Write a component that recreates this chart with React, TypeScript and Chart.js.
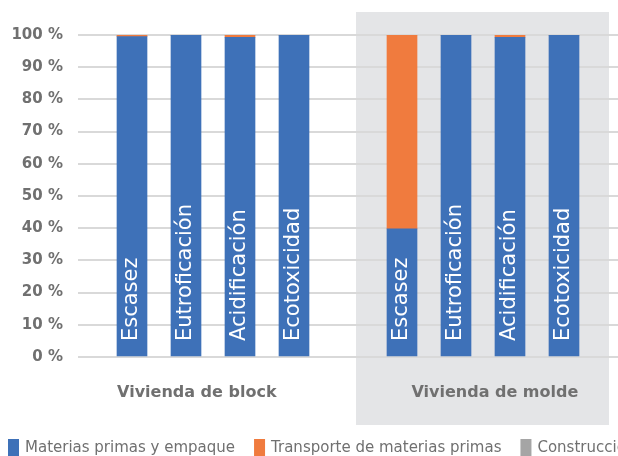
import { useEffect, useRef } from 'react';
import { Chart, registerables } from 'chart.js';

Chart.register(...registerables);

const impacts = ['Escasez', 'Eutroficación', 'Acidificación', 'Ecotoxicidad'];
const groups = ['Vivienda de block', 'Vivienda de molde'];
const blockSlots = [1, 2, 3, 4];
const moldeSlots = [6, 7, 8, 9];
const seriesNames = ['Materias primas y empaque', 'Transporte de materias primas', 'Construcción'];
const seriesColors = ['#3E71B8', '#F07B3E', '#A5A5A5'];

const blockMaterias = [99.5, 100, 99.3, 100];
const blockTransporte = [0.5, 0, 0.7, 0];
const blockConstruccion = [0, 0, 0, 0];
const moldeMaterias = [39.8, 100, 99.3, 100];
const moldeTransporte = [60.2, 0, 0.7, 0];
const moldeConstruccion = [0, 0, 0, 0];

const yTickValues = [0, 10, 20, 30, 40, 50, 60, 70, 80, 90, 100];

const TEXT_GRAY = '#707070';

function toPoints(block: number[], molde: number[]) {
  return [
    ...block.map((v, i) => ({ x: blockSlots[i], y: v })),
    ...molde.map((v, i) => ({ x: moldeSlots[i], y: v })),
  ];
}

const panelPlugin = {
  id: 'panel',
  beforeDraw(chart: any) {
    const { ctx } = chart;
    const xs = chart.scales.x;
    const left = Math.round(xs.getPixelForValue(5.15));
    ctx.save();
    ctx.fillStyle = '#E4E5E7';
    ctx.fillRect(left, 12, 609 - left, 413);
    ctx.restore();
  },
};

const barTextPlugin = {
  id: 'barText',
  afterDatasetsDraw(chart: any) {
    const { ctx } = chart;
    const meta = chart.getDatasetMeta(0);
    ctx.save();
    ctx.fillStyle = '#FFFFFF';
    ctx.font = '21px "DejaVu Sans"';
    ctx.textAlign = 'left';
    ctx.textBaseline = 'middle';
    meta.data.forEach((el: any, i: number) => {
      const label = impacts[i % impacts.length];
      ctx.save();
      ctx.translate(el.x, el.base - 15);
      ctx.rotate(-Math.PI / 2);
      ctx.fillText(label, 0, 0);
      ctx.restore();
    });
    ctx.restore();
  },
};

const groupLabelPlugin = {
  id: 'groupLabels',
  afterDraw(chart: any) {
    const { ctx } = chart;
    const xs = chart.scales.x;
    const centers = [2.2, 7.72];
    ctx.save();
    ctx.fillStyle = TEXT_GRAY;
    ctx.font = 'bold 16px "DejaVu Sans"';
    ctx.textAlign = 'center';
    ctx.textBaseline = 'middle';
    groups.forEach((g, i) => {
      ctx.fillText(g, xs.getPixelForValue(centers[i]), 393);
    });
    ctx.restore();
  },
};

const legendPlugin = {
  id: 'customLegend',
  afterDraw(chart: any) {
    const { ctx } = chart;
    ctx.save();
    ctx.font = '15px "DejaVu Sans"';
    ctx.textBaseline = 'alphabetic';
    ctx.textAlign = 'left';
    let x = 8;
    chart.data.datasets.forEach((ds: any) => {
      ctx.fillStyle = ds.backgroundColor;
      ctx.fillRect(x, 439, 11, 20);
      ctx.fillStyle = TEXT_GRAY;
      const tx = x + 17;
      ctx.fillText(ds.label, tx, 452);
      x = tx + ctx.measureText(ds.label).width + 19;
    });
    ctx.restore();
  },
};

export default function App() {
  const ref = useRef<HTMLCanvasElement>(null);

  useEffect(() => {
    if (!ref.current) return;
    const seriesData = [
      toPoints(blockMaterias, moldeMaterias),
      toPoints(blockTransporte, moldeTransporte),
      toPoints(blockConstruccion, moldeConstruccion),
    ];
    const chart = new Chart(ref.current, {
      type: 'bar',
      data: {
        datasets: seriesNames.map((name, i) => ({
          label: name,
          data: seriesData[i],
          backgroundColor: seriesColors[i],
          borderWidth: 0,
          barThickness: 30,
        })),
      },
      options: {
        responsive: false,
        animation: false,
        layout: { padding: { top: 35, bottom: 99, left: 0, right: 0 } },
        plugins: {
          legend: { display: false },
          tooltip: { enabled: false },
        },
        scales: {
          x: {
            type: 'linear',
            min: 0,
            max: 10,
            offset: false,
            stacked: true,
            display: false,
          },
          y: {
            stacked: true,
            min: 0,
            max: 100,
            afterFit(scale: any) {
              scale.width = 78;
            },
            afterBuildTicks(scale: any) {
              scale.ticks = yTickValues.map((v) => ({ value: v }));
            },
            border: { display: false },
            grid: { color: '#D9D9D9', lineWidth: 2, drawTicks: false },
            ticks: {
              padding: 15,
              color: TEXT_GRAY,
              font: { family: '"DejaVu Sans"', size: 15, weight: 'bold' },
              callback: (v: any) => `${v} %`,
            },
          },
        },
      },
      plugins: [panelPlugin, barTextPlugin, groupLabelPlugin, legendPlugin],
    } as any);
    return () => chart.destroy();
  }, []);

  return (
    <div style={{ position: 'absolute', left: 0, top: 0, width: 618, height: 456 }}>
      <canvas ref={ref} width={618} height={456} style={{ display: 'block' }} />
    </div>
  );
}
